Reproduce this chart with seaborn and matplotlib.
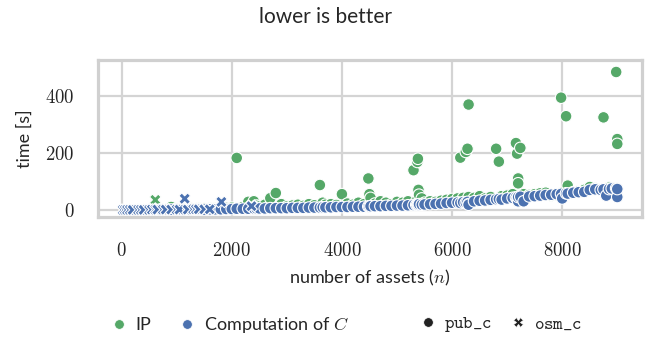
import numpy as np
import pandas as pd
import matplotlib
matplotlib.use("Agg")
import matplotlib.pyplot as plt
from matplotlib.lines import Line2D
from matplotlib.ticker import FuncFormatter
import seaborn as sns

# pub_c instances: number of assets, time for computing C, time for the IP
pub_n = [
    900, 1000, 1100, 1250, 1400, 1500, 1600, 1700, 1800, 1900,
    2000, 2090, 2200, 2300, 2400, 2450, 2500, 2600, 2700, 2800,
    2900, 3000, 3100, 3200, 3300, 3400, 3500, 3600, 3650, 3700,
    3800, 3900, 4000, 4100, 4200, 4300, 4400, 4480, 4500, 4520,
    4600, 4700, 4800, 4900, 5000, 5100, 5200, 5300, 5350, 5370,
    5380, 5390, 5400, 5450, 5500, 5600, 5700, 5800, 5900, 6000,
    6100, 6150, 6200, 6250, 6280, 6300, 6300, 6400, 6500, 6600,
    6700, 6800, 6850, 6900, 7000, 7100, 7160, 7180, 7200, 7200,
    7240, 7300, 7400, 7500, 7600, 7700, 7800, 7900, 7980, 8000,
    8070, 8100, 8200, 8300, 8400, 8500, 8600, 8700, 8750, 8800,
    8850, 8900, 8980, 9000, 9000, 9000,
]
pub_comp = [
    1, 1, 1, 1, 2, 1, 2, 2, 2, 3,
    3, 4, 4, 4, 5, 5, 5, 5, 6, 6,
    6, 6, 7, 7, 7, 8, 8, 8, 9, 9,
    9, 10, 10, 10, 11, 11, 11, 12, 12, 13,
    13, 13, 14, 14, 15, 15, 16, 17, 18, 18,
    19, 17, 20, 18, 19, 20, 21, 22, 24, 25,
    26, 24, 27, 25, 28, 20, 18, 30, 32, 33,
    35, 37, 38, 36, 40, 42, 44, 40, 30, 45,
    46, 30, 47, 48, 50, 52, 53, 55, 56, 40,
    58, 57, 60, 62, 63, 70, 72, 70, 72, 50,
    73, 75, 76, 74, 45, 73,
]
pub_ip = [
    10, 3, 4, 5, 6, 4, 5, 6, 8, 7,
    8, 182, 10, 28, 30, 15, 12, 18, 41, 59,
    20, 12, 15, 18, 14, 20, 16, 87, 25, 18,
    20, 17, 55, 22, 18, 25, 20, 110, 55, 42,
    22, 30, 25, 20, 28, 25, 30, 139, 30, 168,
    179, 70, 53, 40, 25, 30, 28, 32, 35, 38,
    40, 183, 42, 203, 214, 369, 45, 42, 48, 40,
    45, 214, 169, 48, 50, 55, 234, 197, 110, 93,
    217, 55, 52, 55, 58, 60, 50, 52, 393, 60,
    328, 85, 62, 65, 70, 80, 75, 72, 324, 60,
    78, 68, 483, 248, 231, 50,
]

# osm_c instances
osm_n = [20, 60, 100, 150, 200, 300, 350, 400, 500, 550,
         612, 650, 750, 800, 900, 1000, 1050, 1145, 1200, 1300,
         1350, 1400, 1500, 1600, 1812, 2358]
osm_comp = [0, 0, 0, 0, 0, 0, 0, 0, 0, 1,
            1, 1, 1, 1, 1, 1, 1, 39, 1, 2,
            2, 2, 2, 2, 28, 13]
osm_ip = [0, 0, 0, 0, 1, 0, 1, 1, 1, 1,
          35, 1, 2, 2, 2, 2, 3, 2, 3, 3,
          3, 4, 4, 3, 4, 15]

types = ["IP", "Computation of $C$"]
datasets = ["pub_c", "osm_c"]

frames = []
for t, pub_vals, osm_vals in [(types[0], pub_ip, osm_ip), (types[1], pub_comp, osm_comp)]:
    frames.append(pd.DataFrame({"n": pub_n, "time": pub_vals, "type": t, "dataset": datasets[0]}))
    frames.append(pd.DataFrame({"n": osm_n, "time": osm_vals, "type": t, "dataset": datasets[1]}))
df = pd.concat(frames, ignore_index=True)

sns.set_theme(style="whitegrid")
plt.rcParams["font.family"] = ["Lato", "DejaVu Sans"]
plt.rcParams["mathtext.fontset"] = "cm"

deep = sns.color_palette("deep")
palette = {types[0]: deep[2], types[1]: deep[0]}
markers = {datasets[0]: "o", datasets[1]: "X"}

fig = plt.figure(figsize=(6.65, 3.39), dpi=100)
ax = fig.add_axes([98 / 665, 1 - 217 / 339, 544 / 665, 157 / 339])

sns.scatterplot(data=df, x="n", y="time", hue="type", style="dataset",
                hue_order=types, style_order=datasets, palette=palette,
                markers=markers, s=70, linewidth=0.8, edgecolor="white",
                legend=False, ax=ax)

ax.set_xticks([0, 2000, 4000, 6000, 8000])
ax.set_yticks([0, 200, 400])
ax.set_ylim(-25, 525)
fmt = FuncFormatter(lambda v, _: f"${v:g}$")
ax.xaxis.set_major_formatter(fmt)
ax.yaxis.set_major_formatter(fmt)
ax.tick_params(axis="both", labelsize=13.5, pad=17, length=0)
ax.set_xlabel("number of assets ($n$)", fontsize=13, labelpad=7)
ax.set_ylabel("time [s]", fontsize=13, labelpad=9)

for sp in ax.spines.values():
    sp.set_color("#d0d0d0")
    sp.set_linewidth(2.3)
ax.grid(color="#d4d4d4", linewidth=1.6)

fig.text(0.49, 0.95, "lower is better", ha="center", va="center", fontsize=15)

hue_handles = [Line2D([], [], marker="o", linestyle="", markersize=7,
                      markerfacecolor=palette[t], markeredgecolor="white",
                      markeredgewidth=0.6) for t in types]
style_handles = [Line2D([], [], marker=markers[d], linestyle="", markersize=7,
                        markerfacecolor="#222222", markeredgecolor="white",
                        markeredgewidth=0.6) for d in datasets]
leg_kw = dict(frameon=False, ncol=2, fontsize=13, handlelength=0.8,
              handletextpad=0.5, borderaxespad=0, borderpad=0)
leg1 = fig.legend(hue_handles, types, loc="center left", columnspacing=1.6,
                  bbox_to_anchor=(112 / 665, 1 - 325 / 339), **leg_kw)
leg2 = fig.legend(style_handles, [r"$\mathtt{pub\_c}$", r"$\mathtt{osm\_c}$"],
                  loc="center left", columnspacing=1.0,
                  bbox_to_anchor=(421 / 665, 1 - 325 / 339), **leg_kw)

fig.savefig("out.png", dpi=100)
